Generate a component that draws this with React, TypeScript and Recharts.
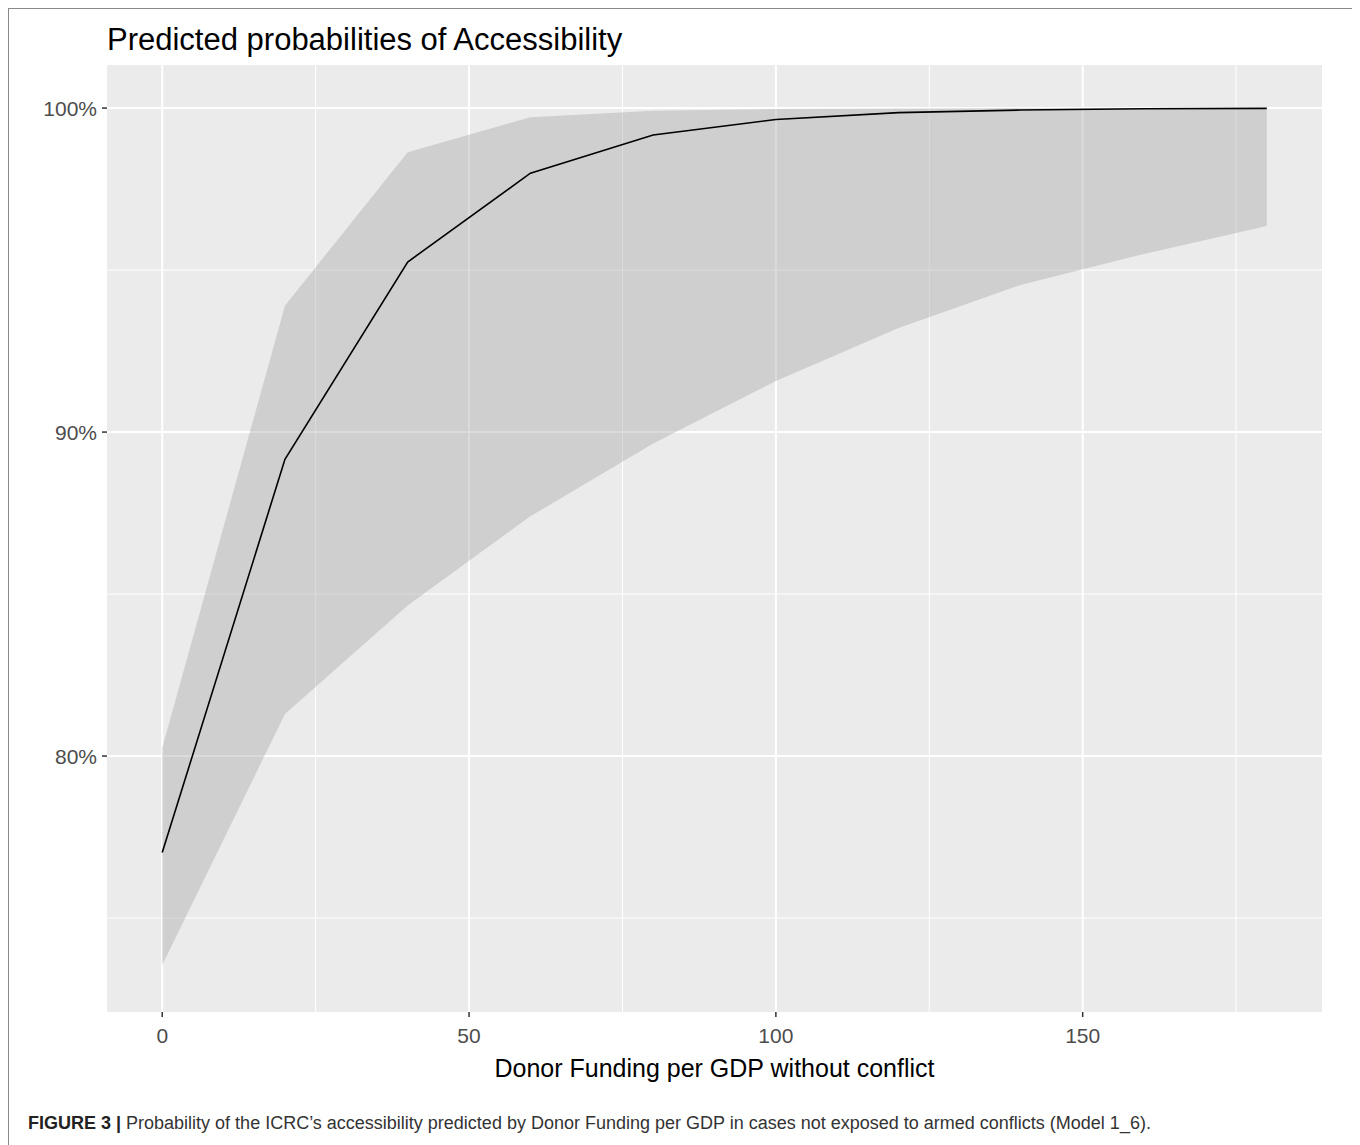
import {
  ComposedChart,
  Area,
  Line,
  XAxis,
  YAxis,
  CartesianGrid,
} from "recharts";

// predicted values (x = donor funding per GDP)
const funding = [0, 20, 40, 60, 80, 100, 120, 140, 160, 180];
const predicted = [77.02, 89.16, 95.25, 97.99, 99.17, 99.65, 99.86, 99.94, 99.98, 99.99];
const ciLow = [73.55, 81.3, 84.65, 87.4, 89.65, 91.58, 93.21, 94.55, 95.5, 96.36];
const ciHigh = [80.25, 93.9, 98.64, 99.72, 99.92, 99.97, 99.99, 100, 100, 100];

const xTicks = [0, 50, 100, 150];
const xMinor = [25, 75, 125, 175];
const yTicks = [80, 90, 100];
const yMinor = [75, 85, 95];

const FONT = '"Liberation Sans", Arial, sans-serif';

export default function App() {
  const data = funding.map((x, i) => ({
    x,
    pred: predicted[i],
    ci: [ciLow[i], ciHigh[i]],
  }));

  return (
    <div
      style={{
        position: "relative",
        width: 1349,
        height: 1160,
        border: "1px solid #8a8a8a",
        boxSizing: "border-box",
        fontFamily: FONT,
        background: "#fff",
      }}
    >
      <div
        style={{
          position: "absolute",
          left: 98,
          top: 13,
          fontSize: 31,
          color: "#000",
          whiteSpace: "nowrap",
        }}
      >
        Predicted probabilities of Accessibility
      </div>

      <div style={{ position: "absolute", left: -1, top: -1 }}>
        <ComposedChart
          width={1349}
          height={1100}
          data={data}
          margin={{ top: 57, right: 35, left: 8, bottom: 16 }}
        >
          <CartesianGrid
            fill="#EBEBEB"
            stroke="#ffffff"
            strokeWidth={1}
            horizontalValues={yMinor}
            verticalValues={xMinor}
          />
          <CartesianGrid
            stroke="#ffffff"
            strokeWidth={2}
            horizontalValues={yTicks}
            verticalValues={xTicks}
          />
          <XAxis
            dataKey="x"
            type="number"
            domain={[-9, 189]}
            ticks={xTicks}
            allowDataOverflow
            axisLine={false}
            tickLine={{ stroke: "#333", strokeWidth: 1.5 }}
            tickSize={5}
            tickMargin={11}
            height={80}
            tick={{ fill: "#4D4D4D", fontSize: 21, fontFamily: FONT }}
            label={{
              value: "Donor Funding per GDP without conflict",
              position: "insideBottom",
              offset: 15,
              fill: "#000",
              fontSize: 25,
              fontFamily: FONT,
            }}
          />
          <YAxis
            type="number"
            domain={[72.1, 101.33]}
            ticks={yTicks}
            allowDataOverflow
            axisLine={false}
            tickLine={{ stroke: "#333", strokeWidth: 1.5 }}
            tickSize={5}
            tickMargin={5}
            width={91}
            tickFormatter={(v: number) => `${v}%`}
            tick={{ fill: "#4D4D4D", fontSize: 21, fontFamily: FONT }}
          />
          <Area
            dataKey="ci"
            type="linear"
            stroke="none"
            fill="#a5a5a5"
            fillOpacity={0.4}
            isAnimationActive={false}
          />
          <Line
            dataKey="pred"
            type="linear"
            stroke="#000"
            strokeWidth={1.6}
            dot={false}
            isAnimationActive={false}
          />
        </ComposedChart>
      </div>

      <div
        style={{
          position: "absolute",
          left: 19,
          top: 1104,
          fontSize: 18,
          color: "#333",
          whiteSpace: "nowrap",
        }}
      >
        <b style={{ color: "#222" }}>FIGURE 3 |</b> Probability of the ICRC’s
        accessibility predicted by Donor Funding per GDP in cases not exposed to
        armed conflicts (Model 1_6).
      </div>
    </div>
  );
}
